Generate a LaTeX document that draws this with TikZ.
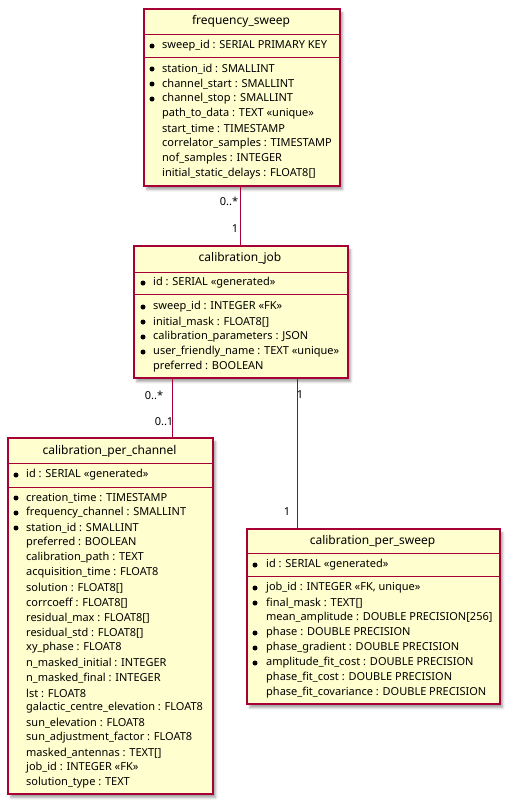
\documentclass[tikz,border=0pt]{standalone}
\usepackage{fontspec}
\setmainfont{Noto Sans}
\usetikzlibrary{shadows.blur}
\definecolor{umlred}{HTML}{A80036}
\definecolor{umlfill}{HTML}{FEFECE}
\tikzset{
  entity/.style={draw=umlred, fill=umlfill, line width=1.5pt, inner sep=0pt, anchor=north west,
    blur shadow={shadow xshift=3pt, shadow yshift=-4pt, shadow blur steps=6, shadow opacity=35}},
  sep/.style={draw=umlred, line width=1pt},
  title/.style={inner sep=0pt, font=\fontsize{12}{14}\selectfont},
  attr/.style={anchor=west, inner sep=0pt, font=\fontsize{11}{13}\selectfont},
  dot/.style={fill=black, circle, inner sep=0pt, minimum size=5pt},
  mult/.style={inner sep=0pt, font=\fontsize{11}{13}\selectfont},
  link/.style={draw=umlred, line width=1pt},
}
\begin{document}
\begin{tikzpicture}[x=1pt,y=-1pt]
\useasboundingbox (0,0) rectangle (509,803);

% frequency_sweep
\node[entity, minimum width=196pt, minimum height=177pt] (sweep) at (143,8) {};
\node[title] (sweep-t) at (241,21) {frequency\_sweep};
\draw[sep] (143,34) -- (339,34);
\draw[sep] (143,57) -- (339,57);
\node[dot] (sweep-d) at (152,46) {};
\node[attr] (sweep-k) at (162,46) {sweep\_id : SERIAL PRIMARY KEY};
\foreach \b/\t [count=\i from 0] in {1/{station\_id : SMALLINT}, 1/{channel\_start : SMALLINT},
  1/{channel\_stop : SMALLINT}, 0/{path\_to\_data : TEXT «unique»}, 0/{start\_time : TIMESTAMP},
  0/{correlator\_samples : TIMESTAMP}, 0/{nof\_samples : INTEGER}, 0/{initial\_static\_delays : FLOAT8[]}}{
  \node[attr] (sweep-\i) at (162,69+15*\i) {\t};
  \ifnum\b=1 \node[dot] (sweep-d\i) at (152,69+15*\i) {}; \fi
}

% calibration_job
\node[entity, minimum width=214pt, minimum height=132pt] (job) at (133,245) {};
\node[title] (job-t) at (240,258) {calibration\_job};
\draw[sep] (133,272) -- (347,272);
\draw[sep] (133,294) -- (347,294);
\node[dot] (job-d) at (143,283) {};
\node[attr] (job-k) at (153,283) {id : SERIAL «generated»};
\foreach \b/\t [count=\i from 0] in {1/{sweep\_id : INTEGER «FK»}, 1/{initial\_mask : FLOAT8[]},
  1/{calibration\_parameters : JSON}, 1/{user\_friendly\_name : TEXT «unique»}, 0/{preferred : BOOLEAN}}{
  \node[attr] (job-\i) at (153,307+15*\i) {\t};
  \ifnum\b=1 \node[dot] (job-d\i) at (143,307+15*\i) {}; \fi
}

% calibration_per_channel
\node[entity, minimum width=205pt, minimum height=356pt] (chan) at (7,437) {};
\node[title] (chan-t) at (109.5,451) {calibration\_per\_channel};
\draw[sep] (7,463) -- (212,463);
\draw[sep] (7,487) -- (212,487);
\node[dot] (chan-d) at (16,475) {};
\node[attr] (chan-k) at (26,475) {id : SERIAL «generated»};
\foreach \b/\t [count=\i from 0] in {1/{creation\_time : TIMESTAMP}, 1/{frequency\_channel : SMALLINT},
  1/{station\_id : SMALLINT}, 0/{preferred : BOOLEAN}, 0/{calibration\_path : TEXT},
  0/{acquisition\_time : FLOAT8}, 0/{solution : FLOAT8[]}, 0/{corrcoeff : FLOAT8[]},
  0/{residual\_max : FLOAT8[]}, 0/{residual\_std : FLOAT8[]}, 0/{xy\_phase : FLOAT8},
  0/{n\_masked\_initial : INTEGER}, 0/{n\_masked\_final : INTEGER}, 0/{lst : FLOAT8},
  0/{galactic\_centre\_elevation : FLOAT8}, 0/{sun\_elevation : FLOAT8},
  0/{sun\_adjustment\_factor : FLOAT8}, 0/{masked\_antennas : TEXT[]},
  0/{job\_id : INTEGER «FK»}, 0/{solution\_type : TEXT}}{
  \node[attr] (chan-\i) at (26,498+15*\i) {\t};
  \ifnum\b=1 \node[dot] (chan-d\i) at (16,498+15*\i) {}; \fi
}

% calibration_per_sweep
\node[entity, minimum width=253pt, minimum height=175pt] (persweep) at (246,528) {};
\node[title] (persweep-t) at (372.5,541) {calibration\_per\_sweep};
\draw[sep] (246,553) -- (499,553);
\draw[sep] (246,576) -- (499,576);
\node[dot] (persweep-d) at (255,565) {};
\node[attr] (persweep-k) at (266,565) {id : SERIAL «generated»};
\foreach \b/\t [count=\i from 0] in {1/{job\_id : INTEGER «FK, unique»}, 1/{final\_mask : TEXT[]},
  0/{mean\_amplitude : DOUBLE PRECISION[256]}, 1/{phase : DOUBLE PRECISION},
  1/{phase\_gradient : DOUBLE PRECISION}, 1/{amplitude\_fit\_cost : DOUBLE PRECISION},
  0/{phase\_fit\_cost : DOUBLE PRECISION}, 0/{phase\_fit\_covariance : DOUBLE PRECISION}}{
  \node[attr] (persweep-\i) at (266,588+15*\i) {\t};
  \ifnum\b=1 \node[dot] (persweep-d\i) at (255,588+15*\i) {}; \fi
}

% links
\coordinate (xa) at (240,0);
\coordinate (xb) at (172,0);
\coordinate (xc) at (297,0);
\draw[link] (sweep.south -| xa) -- (job.north -| xa);
\draw[link] (job.south -| xb) -- (chan.north -| xb);
\draw[link] (job.south -| xc) -- (persweep.north -| xc);
\node[mult] (m1) at (229,201) {0..*};
\node[mult] (m2) at (235,229) {1};
\node[mult] (m3) at (154,395) {0..*};
\node[mult] (m4) at (164,422) {0..1};
\node[mult] (m5) at (300,395) {1};
\node[mult] (m6) at (287,512) {1};
\end{tikzpicture}
\end{document}
